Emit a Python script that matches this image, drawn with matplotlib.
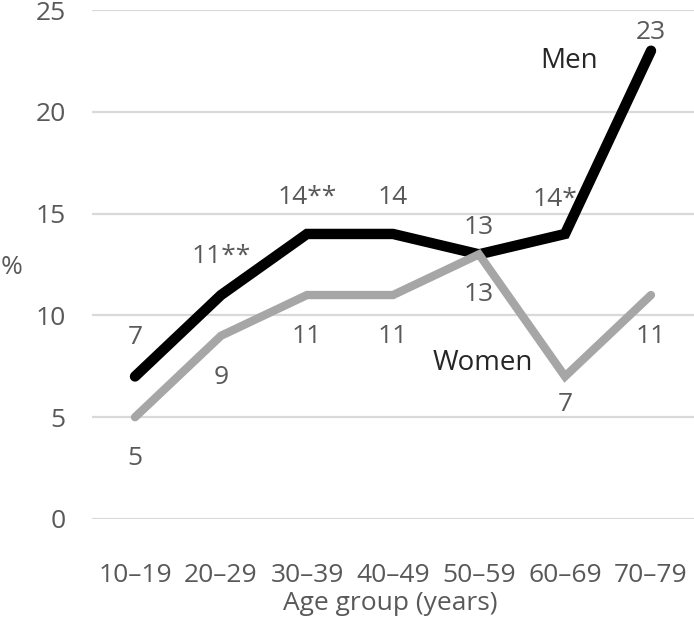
import matplotlib.pyplot as plt
import numpy as np

plt.rcParams['font.family'] = ['Open Sans', 'DejaVu Sans']

# data
age_groups = ['10–19', '20–29', '30–39', '40–49', '50–59', '60–69', '70–79']
men = [7, 11, 14, 14, 13, 14, 23]
women = [5, 9, 11, 11, 13, 7, 11]
men_labels = ['7', '11**', '14**', '14', '13', '14*', '23']
women_labels = ['5', '9', '11', '11', '13', '7', '11']

txt_col = '#595959'
x = np.arange(len(age_groups))

fig = plt.figure(figsize=(6.94, 6.17), dpi=100)
ax = fig.add_axes([92/694, 1-519/617, 602/694, 509/617])

ax.set_axisbelow(True)
ax.yaxis.grid(True, color='#d9d9d9', linewidth=1.6)
for s in ax.spines.values():
    s.set_visible(False)

ax.plot(x, men, color='black', linewidth=7.5, solid_capstyle='round', solid_joinstyle='miter')
ax.plot(x, women, color='#a6a6a6', linewidth=6, solid_capstyle='round', solid_joinstyle='miter')

# data labels (offsets in points)
men_off = [(0, 28), (0, 28), (0, 26), (0, 26), (0, 19), (-7, 25), (0, 13)]
for xi, v, lab, off in zip(x, men, men_labels, men_off):
    ax.annotate(lab, (xi, v), xytext=off, textcoords='offset points',
                ha='center', va='center', fontsize=19, color=txt_col)
women_off = [30, 30, 30, 30, 29, 20, 30]
for xi, v, lab, off in zip(x, women, women_labels, women_off):
    ax.annotate(lab, (xi, v), xytext=(0, -off), textcoords='offset points',
                ha='center', va='center', fontsize=19, color=txt_col)

ax.text(5.05, 22.5, 'Men', ha='center', va='center', fontsize=20, color='#262626')
ax.text(4.04, 7.66, 'Women', ha='center', va='center', fontsize=20, color='#262626')

ax.set_xlim(-0.5, len(age_groups) - 0.5)
ax.set_ylim(0, 25)
ax.set_yticks(range(0, 26, 5))
ax.set_xticks(x)
ax.set_xticklabels(age_groups)
ax.tick_params(axis='both', length=0, labelsize=19, labelcolor=txt_col)
ax.tick_params(axis='y', pad=19)
ax.tick_params(axis='x', pad=32)

ax.set_ylabel('%', rotation=0, fontsize=19, color=txt_col, va='center', ha='center')
ax.yaxis.set_label_coords(-80/602, 0.495)
ax.set_xlabel('Age group (years)', fontsize=19, color=txt_col, va='center')
ax.xaxis.set_label_coords(298/602, -85/509)

fig.savefig('out.png', dpi=100)
